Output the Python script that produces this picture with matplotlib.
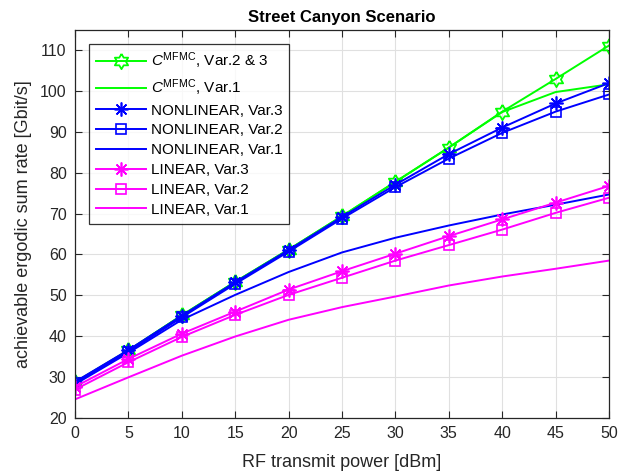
import numpy as np
import matplotlib
matplotlib.use("Agg")
import matplotlib.pyplot as plt

plt.rcParams['font.family'] = ['Liberation Sans', 'DejaVu Sans']
plt.rcParams['mathtext.fontset'] = 'custom'
plt.rcParams['mathtext.rm'] = 'Liberation Sans'
plt.rcParams['mathtext.it'] = 'Liberation Sans:italic'

power = [0, 5, 10, 15, 20, 25, 30, 35, 40, 45, 50]
mfmc_v23 = [28.7, 36.5, 45.1, 53.3, 61.2, 69.4, 77.8, 86.2, 95.0, 103.0, 111.2]
mfmc_v1 = [28.7, 36.5, 45.1, 53.3, 61.2, 69.4, 77.8, 86.2, 94.9, 99.8, 101.7]
nl_v3 = [28.8, 36.6, 45.0, 53.2, 61.1, 69.2, 77.1, 84.6, 91.1, 97.0, 102.0]
nl_v2 = [28.6, 36.2, 44.6, 52.8, 60.7, 68.8, 76.5, 83.5, 89.8, 95.0, 99.2]
nl_v1 = [28.2, 35.9, 44.0, 50.1, 55.7, 60.5, 64.1, 67.1, 69.8, 72.2, 74.7]
lin_v3 = [27.6, 34.4, 40.6, 46.0, 51.4, 55.9, 60.2, 64.5, 68.6, 72.7, 76.8]
lin_v2 = [26.9, 33.6, 39.8, 45.2, 50.1, 54.3, 58.5, 62.3, 66.1, 70.2, 73.9]
lin_v1 = [24.5, 29.9, 35.2, 39.9, 44.0, 47.1, 49.7, 52.4, 54.6, 56.5, 58.5]

# hexagram marker path
ang_out = np.deg2rad(90 + np.arange(6) * 60)
ang_in = np.deg2rad(120 + np.arange(6) * 60)
r_in = 1 / np.sqrt(3)
hexa = []
for ao, ai in zip(ang_out, ang_in):
    hexa.append((np.cos(ao), np.sin(ao)))
    hexa.append((r_in * np.cos(ai), r_in * np.sin(ai)))
hexa.append(hexa[0])

fig = plt.figure(figsize=(6.32, 4.72), dpi=100)
ax = fig.add_axes([0.1187, 0.115, 0.9636 - 0.1187, 0.9364 - 0.115])

G = (0, 1, 0)
B = (0, 0, 1)
M = (1, 0, 1)
lw = 1.4
ast = (8, 2, 0)

ax.plot(power, mfmc_v23, color=G, lw=lw, marker=hexa, ms=11, mfc='none', mec=G, mew=1.3,
        label=r'$C^{\mathrm{MFMC}}$, Var.2 & 3')
ax.plot(power, mfmc_v1, color=G, lw=lw, label=r'$C^{\mathrm{MFMC}}$, Var.1')
ax.plot(power, nl_v3, color=B, lw=lw, marker=ast, ms=10, mec=B, mew=1.2, label='NONLINEAR, Var.3')
ax.plot(power, nl_v2, color=B, lw=lw, marker='s', ms=7.5, mfc='none', mec=B, mew=1.2, label='NONLINEAR, Var.2')
ax.plot(power, nl_v1, color=B, lw=lw, label='NONLINEAR, Var.1')
ax.plot(power, lin_v3, color=M, lw=lw, marker=ast, ms=10, mec=M, mew=1.2, label='LINEAR, Var.3')
ax.plot(power, lin_v2, color=M, lw=lw, marker='s', ms=7.5, mfc='none', mec=M, mew=1.2, label='LINEAR, Var.2')
ax.plot(power, lin_v1, color=M, lw=lw, label='LINEAR, Var.1')

ax.set_xlim(0, 50)
ax.set_ylim(20, 115)
ax.set_xticks(range(0, 51, 5))
ax.set_yticks(range(20, 111, 10))
ax.grid(True, color=(0.88, 0.88, 0.88), lw=0.8)
ax.set_axisbelow(True)
ax.tick_params(direction='in', top=True, right=True, length=5, labelsize=11.5,
               colors=(0.15, 0.15, 0.15), pad=6)
for s in ax.spines.values():
    s.set_color((0.15, 0.15, 0.15))
    s.set_linewidth(0.9)

ax.set_xlabel('RF transmit power [dBm]', fontsize=13, color=(0.15, 0.15, 0.15), labelpad=9)
ax.set_ylabel('achievable ergodic sum rate [Gbit/s]', fontsize=13, color=(0.15, 0.15, 0.15), labelpad=6)
ax.set_title('Street Canyon Scenario', fontsize=12, fontweight='bold', pad=6)

leg = ax.legend(loc='upper left', bbox_to_anchor=(0.026, 0.964), fontsize=11, frameon=True,
                fancybox=False, edgecolor='black', borderaxespad=0, handlelength=3.3,
                labelspacing=0.38, borderpad=0.45, handletextpad=0.3)
leg.get_frame().set_linewidth(0.9)

fig.savefig('out.png', dpi=100)
